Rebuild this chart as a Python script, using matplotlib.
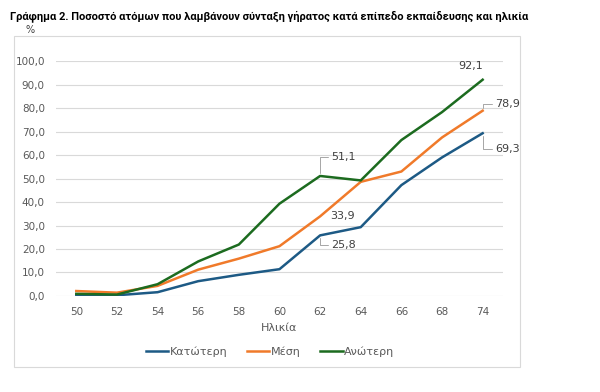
import numpy as np
import matplotlib
matplotlib.use("Agg")
import matplotlib.pyplot as plt
from matplotlib.patches import Rectangle

ages = ["50", "52", "54", "56", "58", "60", "62", "64", "66", "68", "74"]
katoteri = [0.5, 0.3, 1.6, 6.3, 9.0, 11.4, 25.8, 29.3, 47.2, 59.0, 69.3]
mesi = [2.1, 1.4, 4.3, 11.2, 15.9, 21.2, 33.9, 48.6, 53.0, 67.5, 78.9]
anoteri = [0.9, 0.6, 5.0, 14.7, 21.9, 39.3, 51.1, 49.2, 66.4, 78.3, 92.1]
y_ticks = np.arange(0, 101, 10)

blue = "#1D5A85"
orange = "#F07A2A"
green = "#1C6B1F"
grey_txt = "#595959"

fig = plt.figure(figsize=(6, 3.92), dpi=100)
ax = fig.add_axes([0.0933, 0.245, 0.745, 0.599])

# light frame around the chart area
fig.patches.append(Rectangle((14/600, 1-367/392), (520-14)/600, (367-36)/392,
                             transform=fig.transFigure, fill=False,
                             edgecolor="#D9D9D9", lw=0.8))

x = np.arange(len(ages))
ax.plot(x, katoteri, color=blue, lw=1.8, label="Κατώτερη")
ax.plot(x, mesi, color=orange, lw=1.8, label="Μέση")
ax.plot(x, anoteri, color=green, lw=1.8, label="Ανώτερη")

ax.set_xlim(-0.5, len(ages) - 0.5)
ax.set_ylim(0, 100)
ax.set_xticks(x)
ax.set_xticklabels(ages)
ax.set_yticks(y_ticks)
ax.set_yticklabels([f"{v:.1f}".replace(".", ",") for v in y_ticks])
ax.tick_params(length=0, labelsize=7.5, colors=grey_txt, pad=8)
ax.tick_params(axis="y", pad=8)
ax.grid(axis="y", color="#D9D9D9", lw=0.8)
ax.set_axisbelow(True)
for s in ax.spines.values():
    s.set_visible(False)

ax.set_xlabel("Ηλικία", fontsize=8, color=grey_txt, labelpad=4)

# data labels
lead = dict(arrowstyle="-", color="#A6A6A6", lw=0.7, shrinkA=0, shrinkB=2)
def lab(i, vals, dx, dy, leader=True, ha="left"):
    txt = f"{vals[i]:.1f}".replace(".", ",")
    if leader:
        ax.annotate(txt, (x[i], vals[i]), xytext=(dx, dy), textcoords="offset points",
                    fontsize=8, color="#404040", ha=ha, va="center",
                    arrowprops=dict(lead, connectionstyle="angle,angleA=0,angleB=90"),
                    annotation_clip=False)
    else:
        ax.annotate(txt, (x[i], vals[i]), xytext=(dx, dy), textcoords="offset points",
                    fontsize=8, color="#404040", ha=ha, va="center",
                    annotation_clip=False)

lab(6, anoteri, 8, 14)
lab(6, mesi, 7, 0, leader=False)
lab(6, katoteri, 8, -7)
lab(10, anoteri, -9, 10, leader=False, ha="center")
lab(10, mesi, 9, 5)
lab(10, katoteri, 9, -11)

fig.legend(loc="lower center", bbox_to_anchor=(0.45, 0.065), ncol=3, frameon=False,
           fontsize=8, handlelength=2.0, handletextpad=0.1, columnspacing=1.8,
           labelcolor=grey_txt)

fig.text(10/600, 1-16/392, "Γράφημα 2. Ποσοστό ατόμων που λαμβάνουν σύνταξη γήρατος κατά επίπεδο εκπαίδευσης και ηλικία",
         fontsize=8, fontweight="bold", family=["Roboto", "DejaVu Sans"],
         va="center", ha="left")
fig.text(25/600, 1-30/392, "%", fontsize=7, color="#404040", va="center", ha="left")

fig.savefig("out.png", dpi=100)
